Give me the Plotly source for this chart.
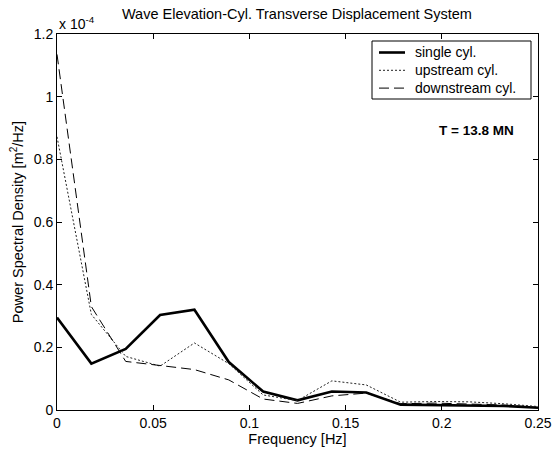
import plotly.graph_objects as go

# Frequency bins (Hz) and PSD values in units of 1e-4 m^2/Hz
freq = [i * 0.25 / 14 for i in range(15)]
single_cyl = [0.295, 0.148, 0.195, 0.303, 0.320, 0.153, 0.059, 0.031, 0.059, 0.056,
              0.017, 0.016, 0.016, 0.013, 0.007]
upstream_cyl = [0.872, 0.305, 0.171, 0.140, 0.214, 0.148, 0.048, 0.030, 0.093, 0.080,
                0.025, 0.027, 0.026, 0.020, 0.011]
downstream_cyl = [1.135, 0.330, 0.155, 0.142, 0.129, 0.096, 0.035, 0.021, 0.045, 0.054,
                  0.020, 0.022, 0.020, 0.016, 0.008]

series_names = ["single cyl.", "upstream cyl.", "downstream cyl."]

x_ticks = [0, 0.05, 0.1, 0.15, 0.2, 0.25]
x_tick_text = ["0", "0.05", "0.1", "0.15", "0.2", "0.25"]
y_ticks = [0, 0.2, 0.4, 0.6, 0.8, 1.0, 1.2]
y_tick_text = ["0", "0.2", "0.4", "0.6", "0.8", "1", "1.2"]

FONT = "Liberation Sans, Arial, sans-serif"
line_styles = [
    dict(color="black", width=2.6),
    dict(color="#222222", width=1, dash="2px,2px"),
    dict(color="black", width=1, dash="10px,5px"),
]

fig = go.Figure()
for name, ys, style in zip(series_names, [single_cyl, upstream_cyl, downstream_cyl], line_styles):
    fig.add_trace(go.Scatter(x=freq, y=ys, mode="lines", name=name, line=style,
                             showlegend=False))

axis_common = dict(
    showgrid=False, zeroline=False, showline=True, linecolor="black", linewidth=1,
    mirror="ticks", ticks="inside", ticklen=5, tickcolor="black", automargin=False,
    tickfont=dict(family=FONT, size=14, color="black"),
)

fig.update_layout(
    width=553, height=454,
    margin=dict(l=57, r=15, t=34, b=44),
    paper_bgcolor="white", plot_bgcolor="white",
    font=dict(family=FONT, size=14, color="black"),
    title=dict(text="Wave Elevation-Cyl. Transverse Displacement System",
               x=0.537, xanchor="center", y=0.969, yanchor="middle",
               font=dict(family=FONT, size=14.5, color="black")),
    xaxis=dict(range=[0, 0.25], tickvals=x_ticks, ticktext=x_tick_text,
               title=dict(text="Frequency [Hz]", standoff=2,
                          font=dict(family=FONT, size=14.5)),
               **axis_common),
    yaxis=dict(range=[0, 1.2], tickvals=y_ticks, ticktext=y_tick_text,
               title=dict(text="Power Spectral Density [m<sup>2</sup>/Hz]", standoff=6,
                          font=dict(family=FONT, size=14.5)),
               **axis_common),
    showlegend=False,
)

# Legend box placed in paper coordinates of the plotting area
def px_x(p):
    return (p - 57) / 481.0

def px_y(p):
    return (410 - p) / 376.0

fig.add_shape(type="rect", xref="paper", yref="paper",
              x0=px_x(372), x1=px_x(531), y0=px_y(99), y1=px_y(41),
              line=dict(color="black", width=1), fillcolor="white", layer="above")
for i, (name, style) in enumerate(zip(series_names, line_styles)):
    yc = px_y(52.5 + i * 17.8)
    fig.add_shape(type="line", xref="paper", yref="paper",
                  x0=px_x(379), x1=px_x(405), y0=yc, y1=yc, line=style, layer="above")
    fig.add_annotation(text=name, xref="paper", yref="paper", x=px_x(413), y=yc,
                       xanchor="left", yanchor="middle", showarrow=False,
                       font=dict(family=FONT, size=14, color="black"))

fig.add_annotation(text="x 10<sup>-4</sup>", xref="paper", yref="paper",
                   x=0.0, y=1.0, xanchor="left", yanchor="bottom", yshift=0,
                   showarrow=False, font=dict(family=FONT, size=14, color="black"))
fig.add_annotation(text="<b>T = 13.8 MN</b>", xref="paper", yref="paper",
                   x=px_x(476), y=px_y(130), xanchor="center", yanchor="middle",
                   showarrow=False, font=dict(family=FONT, size=13.5, color="black"))

fig.write_html("out.html")
